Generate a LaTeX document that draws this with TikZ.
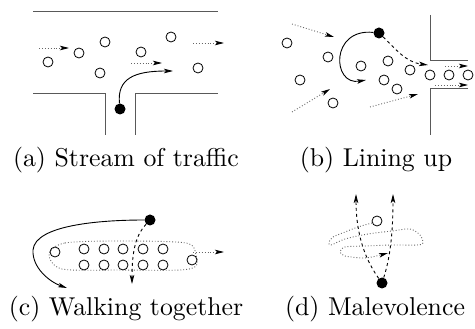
\documentclass[tikz,border=0pt]{standalone}
\usetikzlibrary{arrows.meta}
\tikzset{
  ped/.style={circle,draw,line width=0.8pt,minimum size=10pt,inner sep=0pt},
  agent/.style={circle,fill,minimum size=11pt,inner sep=0pt},
  wall/.style={draw=black!65,line width=1pt},
  tip/.style={-{Stealth[length=9pt,width=4.5pt,inset=2pt,black]}},
  flow/.style={tip,dotted,draw=black!60,line width=0.9pt},
  walk/.style={tip,line width=0.9pt},
  dwalk/.style={tip,dashed,line width=0.9pt},
  group/.style={dotted,draw=black!60,line width=0.9pt},
  capt/.style={scale=2.58}
}
\begin{document}
\begin{tikzpicture}[x=1pt,y=-1pt]
  \useasboundingbox (0,0) rectangle (475,329);
  % (a)
  \draw[wall] (33,12) -- (218,12);
  \draw[wall] (33,94) -- (105,94) -- (105,135);
  \draw[wall] (135,135) -- (135,94) -- (218,94);
  \foreach \n/\p in {1/{48,62},2/{79,53},3/{105,42},4/{100,73},5/{141,52},6/{171,37},7/{198,68}}
    \node[ped] (a\n) at (\p) {};
  \node[agent] (aA) at (120,109) {};
  \coordinate (af1) at (39,48);  \coordinate (at1) at (69,48);
  \coordinate (af2) at (131,63); \coordinate (at2) at (162,63);
  \coordinate (af3) at (193,43); \coordinate (at3) at (224,43);
  \coordinate (aE) at (173,71);
  \draw[flow] (af1) -- (at1);
  \draw[flow] (af2) -- (at2);
  \draw[flow] (af3) -- (at3);
  \draw[walk] (aA) .. controls (117,78) and (135,71) .. (aE);
  \node[capt] (capa) at (126,160) {(a) Stream of traffic};
  % (b)
  \draw[wall] (430,15) -- (430,61) -- (468,61);
  \draw[wall] (468,89) -- (430,89) -- (430,135);
  \foreach \n/\p in {1/{287,43},2/{328,57},3/{300,80},4/{333,103},5/{361,66},6/{388,61},7/{384,80},8/{397,89},9/{410,70},10/{430,75},11/{449,75},12/{468,75}}
    \node[ped] (b\n) at (\p) {};
  \node[agent] (bA) at (379,33) {};
  \coordinate (bf1) at (292,24);  \coordinate (bt1) at (334,37);
  \coordinate (bf2) at (292,112); \coordinate (bt2) at (330,89);
  \coordinate (bf3) at (370,107); \coordinate (bt3) at (418,94);
  \coordinate (bf4) at (445,66);  \coordinate (bt4) at (468,66);
  \coordinate (bf5) at (435,85);  \coordinate (bt5) at (468,85);
  \coordinate (bE) at (366,80);
  \coordinate (bD) at (428,65);
  \foreach \i in {1,...,5}
    \draw[flow] (bf\i) -- (bt\i);
  \draw[walk] (bA) .. controls (330,28) and (332,86) .. (bE);
  \draw[dwalk] (bA) .. controls (395,48) and (405,62) .. (bD);
  \node[capt] (capb) at (376,160) {(b) Lining up};
  % (c)
  \draw[group] plot[smooth cycle] coordinates {(49,254) (65,243) (120,241) (186,243) (196,255) (196,266) (180,270) (120,270) (62,269)};
  \node[ped] (c1) at (55,252) {};
  \foreach \x [count=\i] in {84,104,123,143,163} {
    \node[ped] (ct\i) at (\x,249) {};
    \node[ped] (cb\i) at (\x,265) {};
  }
  \node[ped] (c12) at (192,260) {};
  \node[agent] (cA) at (150,220) {};
  \coordinate (cf) at (193,252); \coordinate (ct) at (224,252);
  \coordinate (cE) at (67,288);
  \coordinate (cD) at (132,284);
  \draw[flow] (cf) -- (ct);
  \draw[walk] (cA) .. controls (100,220) and (35,225) .. (33,250) .. controls (32,268) and (50,282) .. (cE);
  \draw[dwalk] (cA) .. controls (136,235) and (132,250) .. (cD);
  \node[capt] (capc) at (126,309) {(c) Walking together};
  % (d)
  \node[ped] (d1) at (377,221) {};
  \node[agent] (dA) at (382,283) {};
  \coordinate (dL) at (356,194);
  \coordinate (dR) at (393,194);
  \draw[dwalk] (dA) .. controls (362,255) and (356,228) .. (dL);
  \draw[dwalk] (dA) .. controls (391,255) and (393,228) .. (dR);
  \draw[flow] plot[smooth] coordinates {(372,223) (358,227) (345,232) (333,237) (329,242) (331,245) (345,239) (368,234) (392,231) (410,229) (420,235) (423,243) (417,245) (392,245) (365,246) (345,247) (340,252) (345,256) (362,258) (372,257) (388,253)};
  \node[capt] (capd) at (375,309) {(d) Malevolence};
\end{tikzpicture}
\end{document}
